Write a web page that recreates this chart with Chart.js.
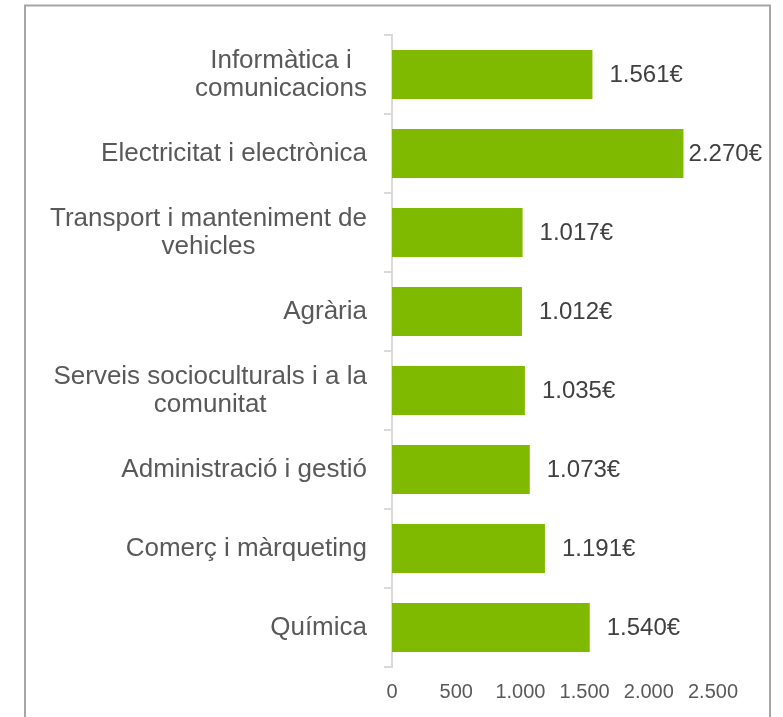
<!DOCTYPE html>
<html>
<head>
<meta charset="utf-8">
<script src="https://cdn.jsdelivr.net/npm/chart.js@4"></script>
<style>
  html, body { margin: 0; padding: 0; background: #ffffff; }
  #wrap { width: 783px; height: 717px; position: relative; }
</style>
</head>
<body>
<div id="wrap"><canvas id="c" width="783" height="717"></canvas></div>
<script>
// ---- data ----
const categories = [
  ["Informàtica i", "comunicacions"],
  ["Electricitat i electrònica"],
  ["Transport i manteniment de", "vehicles"],
  ["Agrària"],
  ["Serveis socioculturals i a la", "comunitat"],
  ["Administració i gestió"],
  ["Comerç i màrqueting"],
  ["Química"]
];
const salaries = [1561, 2270, 1017, 1012, 1035, 1073, 1191, 1540];
const xTickValues = [0, 500, 1000, 1500, 2000, 2500];

function fmt(n) {
  return String(n).replace(/\B(?=(\d{3})+(?!\d))/g, ".");
}

const FONT = '"Liberation Sans", Arial, sans-serif';

const frame = {
  id: 'frame',
  beforeDraw(chart) {
    const ctx = chart.ctx;
    ctx.save();
    ctx.fillStyle = '#ffffff';
    ctx.fillRect(0, 0, chart.width, chart.height);
    ctx.strokeStyle = '#A6A6A6';
    ctx.lineWidth = 2;
    ctx.strokeRect(25, 5.5, 745, 740);
    ctx.restore();
  }
};

// category labels: block right-aligned next to the axis, lines centred in the block
const categoryLabels = {
  id: 'categoryLabels',
  afterDraw(chart) {
    const ctx = chart.ctx;
    const y = chart.scales.y;
    const lh = 28;
    ctx.save();
    ctx.font = '26px ' + FONT;
    ctx.fillStyle = '#595959';
    ctx.textBaseline = 'middle';
    ctx.textAlign = 'center';
    const right = y.right - 8 - 17;
    categories.forEach((lines, i) => {
      const cy = y.getPixelForTick(i);
      const maxW = Math.max(...lines.map(l => ctx.measureText(l).width));
      const cx = right - maxW / 2;
      const y0 = cy - (lines.length - 1) * lh / 2;
      lines.forEach((l, k) => ctx.fillText(l, cx, y0 + k * lh));
    });
    ctx.restore();
  }
};

const valueLabels = {
  id: 'valueLabels',
  afterDatasetsDraw(chart) {
    const ctx = chart.ctx;
    const meta = chart.getDatasetMeta(0);
    ctx.save();
    ctx.font = '24px ' + FONT;
    ctx.fillStyle = '#404040';
    ctx.textBaseline = 'middle';
    ctx.textAlign = 'left';
    meta.data.forEach((bar, i) => {
      const txt = fmt(salaries[i]) + '€';
      const w = ctx.measureText(txt).width;
      let x = bar.x + 17;
      if (x + w > 762) x = 762 - w;
      ctx.fillText(txt, x, bar.y + 1);
    });
    ctx.restore();
  }
};

new Chart(document.getElementById('c'), {
  type: 'bar',
  data: {
    labels: categories,
    datasets: [{
      data: salaries,
      backgroundColor: '#7FBA00',
      borderWidth: 0,
      barPercentage: 0.62,
      categoryPercentage: 1.0
    }]
  },
  options: {
    indexAxis: 'y',
    responsive: false,
    animation: false,
    events: [],
    layout: { padding: { top: 35, right: 70, bottom: 0, left: 0 } },
    plugins: { legend: { display: false }, tooltip: { enabled: false } },
    scales: {
      x: {
        min: 0,
        max: 2500,
        afterBuildTicks(scale) { scale.ticks = xTickValues.map(v => ({ value: v })); },
        afterFit(scale) { scale.height = 50; },
        grid: { display: false, drawTicks: false },
        border: { display: false },
        ticks: {
          autoSkip: false,
          maxRotation: 0,
          padding: 13,
          color: '#595959',
          font: { family: FONT, size: 20 },
          callback: (v) => fmt(v)
        }
      },
      y: {
        afterFit(scale) { scale.width = 392; },
        grid: {
          drawOnChartArea: false,
          offset: true,
          color: '#D9D9D9',
          lineWidth: 2,
          tickLength: 8
        },
        border: { display: true, color: '#D9D9D9', width: 2 },
        ticks: { display: false, autoSkip: false }
      }
    }
  },
  plugins: [frame, categoryLabels, valueLabels]
});
</script>
</body>
</html>
